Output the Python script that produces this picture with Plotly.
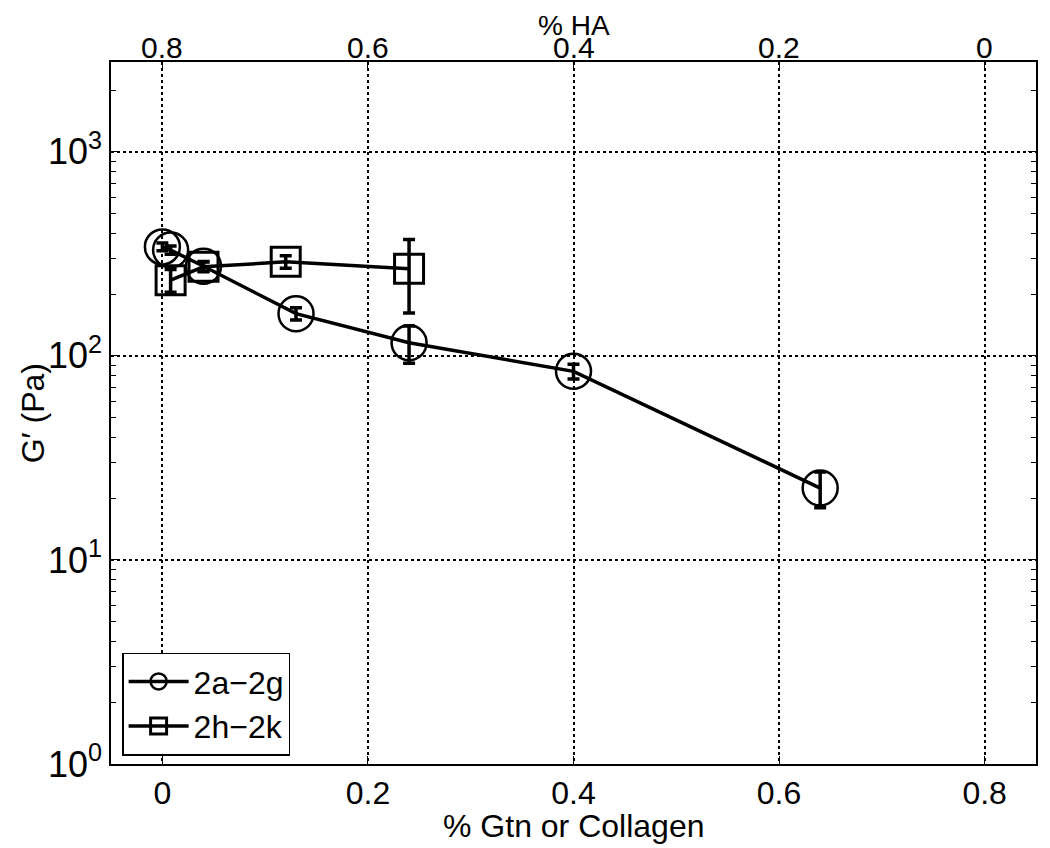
import plotly.graph_objects as go

# Series 2a-2g (circles)
gtn_a = [0.0, 0.008, 0.04, 0.13, 0.24, 0.40, 0.64]
g_a = [342, 330, 275, 161, 116, 84, 22.5]
err_a = [15, 15, 15, 11, 24, 7, 4.5]

# Series 2h-2k (squares)
gtn_h = [0.008, 0.04, 0.12, 0.24]
g_h = [235, 273, 289, 267]
err_h = [30, 15, 20, 105]

x_ticks = [0, 0.2, 0.4, 0.6, 0.8]
ha_ticks = [0.8, 0.6, 0.4, 0.2, 0]
ha_labels = ["0.8", "0.6", "0.4", "0.2", "0"]
y_ticks = [1, 10, 100, 1000]
y_ticktext = ["10<sup>0</sup>", "10<sup>1</sup>", "10<sup>2</sup>", "10<sup>3</sup>"]

# minor ticks of the log axis (2..9 in each decade)
minor_vals = [m * 10 ** k for k in range(0, 4) for m in range(2, 10)]

FONT = "Liberation Sans, Arial, sans-serif"

fig = go.Figure()

fig.add_trace(go.Scatter(
    x=gtn_a, y=g_a, name="2a\u22122g", mode="lines+markers",
    line=dict(color="black", width=3.5),
    marker=dict(symbol="circle-open", size=35, color="black", line=dict(width=2.5)),
    error_y=dict(type="data", array=err_a, color="black", thickness=3.5, width=6),
))
fig.add_trace(go.Scatter(
    x=gtn_h, y=g_h, name="2h\u22122k", mode="lines+markers",
    line=dict(color="black", width=3.5),
    marker=dict(symbol="square-open", size=29, color="black", line=dict(width=3)),
    error_y=dict(type="data", array=err_h, color="black", thickness=3.5, width=6),
))
# invisible trace to bring up the top (% HA) axis
fig.add_trace(go.Scatter(
    x=ha_ticks, y=[100] * len(ha_ticks), xaxis="x2", mode="markers",
    marker=dict(opacity=0), showlegend=False, hoverinfo="skip",
))

# top axis tick labels, placed on the x2 scale just above the frame
top_labels = [
    dict(text=t, x=v, xref="x2", yref="paper", y=1, yshift=-4,
         xanchor="center", yanchor="bottom", showarrow=False, font=dict(size=30))
    for v, t in zip(ha_ticks, ha_labels)
]

fig.update_layout(
    width=1050, height=848,
    margin=dict(l=103, r=22, t=54, b=92),
    plot_bgcolor="white", paper_bgcolor="white",
    font=dict(family=FONT, size=32, color="black"),
    showlegend=True,
    legend=dict(
        x=0.012, y=0.012, xanchor="left", yanchor="bottom",
        bordercolor="black", borderwidth=1.5, bgcolor="white",
        font=dict(size=32), tracegroupgap=0, itemwidth=60,
    ),
    xaxis=dict(
        range=[-0.05, 0.85], tickvals=x_ticks, ticktext=["0", "0.2", "0.4", "0.6", "0.8"],
        tickfont=dict(size=32), automargin=False,
        showline=True, linecolor="black", linewidth=1.5, mirror=False,
        ticks="inside", ticklen=8, tickcolor="black",
        showgrid=True, gridcolor="black", griddash="dot", gridwidth=1.5,
        zeroline=False,
    ),
    xaxis2=dict(
        overlaying="x", side="top", range=[0.85, -0.05],
        tickvals=ha_ticks, showticklabels=False, automargin=False,
        showline=True, linecolor="black", linewidth=1.5,
        ticks="inside", ticklen=8, tickcolor="black",
        showgrid=False, zeroline=False,
    ),
    yaxis=dict(
        type="log", range=[0, 3.44],
        tickvals=y_ticks, ticktext=y_ticktext, tickfont=dict(size=36), automargin=False,
        showline=True, linecolor="black", linewidth=1.5, mirror="ticks",
        ticks="inside", ticklen=8, tickcolor="black",
        minor=dict(tickvals=minor_vals, ticks="inside", ticklen=5, tickcolor="black", showgrid=False),
        showgrid=True, gridcolor="black", griddash="dot", gridwidth=1.5,
        zeroline=False,
    ),
    annotations=top_labels + [
        dict(text="% HA", xref="paper", yref="paper", x=0.5, y=1.0527,
             xanchor="center", yanchor="middle", showarrow=False, font=dict(size=28)),
        dict(text="% Gtn or Collagen", xref="paper", yref="paper", x=0.5, y=-0.088,
             xanchor="center", yanchor="middle", showarrow=False, font=dict(size=32)),
        dict(text="G\u2032 (Pa)", xref="paper", yref="paper", x=-0.084, y=0.5,
             xanchor="center", yanchor="middle", textangle=-90, showarrow=False, font=dict(size=32)),
    ],
)

fig.write_html("out.html")
